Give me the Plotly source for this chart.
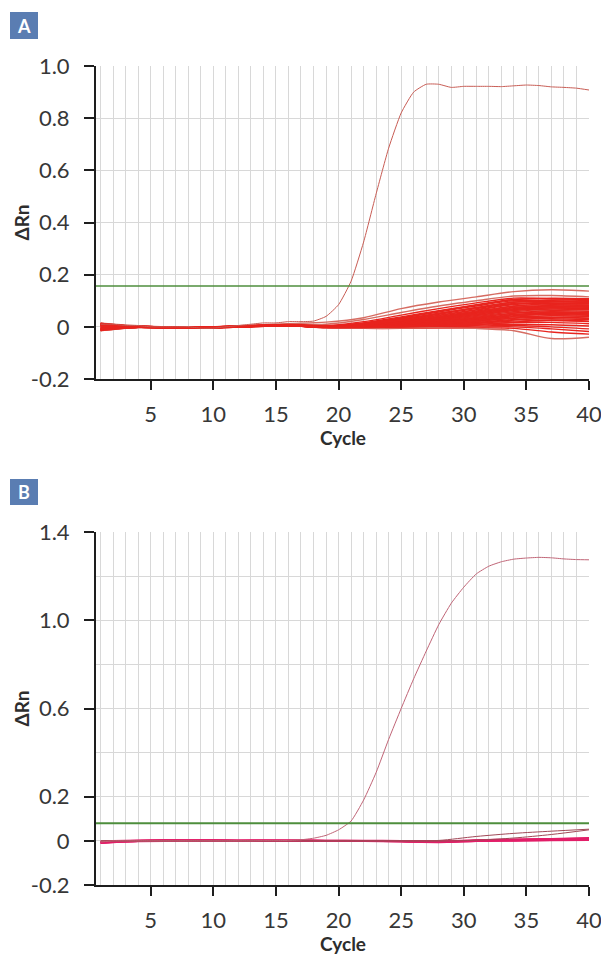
import plotly.graph_objects as go

W, H = 601, 958

# ---------------- data ----------------
CYCLES = list(range(1, 41))
# sampled cycles for the non-amplifying (negative) wells
CYC_S = [1, 2, 4, 8, 12, 16, 19, 22, 25, 28, 31, 34, 37, 40]

# Panel A: positive control well
A_POS = [0.010, 0.010, 0.005, 0.005, 0.000, 0.000, 0.000, 0.000, -0.005, -0.005,
         0.000, 0.005, 0.010, 0.015, 0.015, 0.020, 0.020, 0.022, 0.040, 0.085,
         0.175, 0.325, 0.510, 0.685, 0.820, 0.900, 0.930, 0.930, 0.918, 0.922,
         0.922, 0.922, 0.921, 0.924, 0.927, 0.925, 0.920, 0.918, 0.915, 0.908]

# Panel A: negative wells
A_NEG = [
    [0.015, 0.010, 0.004, -0.002, 0.004, 0.012, 0.018, 0.035, 0.070, 0.095, 0.115, 0.135, 0.142, 0.137],
    [0.010, 0.006, 0.002, -0.003, 0.002, 0.010, 0.010, 0.028, 0.055, 0.080, 0.100, 0.118, 0.120, 0.115],
    [-0.012, -0.008, -0.002, -0.004, 0.001, 0.008, 0.005, 0.020, 0.045, 0.070, 0.092, 0.110, 0.108, 0.106],
    [0.005, 0.003, 0.000, -0.003, 0.003, 0.007, 0.002, 0.015, 0.038, 0.062, 0.085, 0.105, 0.107, 0.104],
    [-0.008, -0.005, -0.001, -0.005, 0.000, 0.006, 0.000, 0.012, 0.033, 0.057, 0.080, 0.100, 0.100, 0.098],
    [0.012, 0.007, 0.002, -0.002, 0.003, 0.009, 0.003, 0.014, 0.030, 0.052, 0.074, 0.095, 0.097, 0.095],
    [-0.014, -0.009, -0.003, -0.006, -0.001, 0.005, -0.002, 0.008, 0.027, 0.048, 0.070, 0.090, 0.092, 0.090],
    [0.002, 0.000, 0.001, -0.004, 0.002, 0.007, 0.001, 0.010, 0.025, 0.045, 0.066, 0.087, 0.090, 0.088],
    [0.008, 0.004, 0.000, -0.003, 0.001, 0.006, -0.001, 0.007, 0.022, 0.040, 0.060, 0.080, 0.085, 0.083],
    [-0.010, -0.006, -0.002, -0.005, 0.000, 0.005, -0.003, 0.005, 0.019, 0.036, 0.055, 0.075, 0.080, 0.079],
    [0.004, 0.002, 0.001, -0.004, 0.001, 0.006, 0.000, 0.006, 0.017, 0.033, 0.052, 0.070, 0.077, 0.075],
    [-0.004, -0.003, -0.001, -0.005, 0.000, 0.004, -0.002, 0.004, 0.015, 0.030, 0.047, 0.066, 0.072, 0.070],
    [0.013, 0.008, 0.002, -0.002, 0.002, 0.007, 0.001, 0.005, 0.014, 0.027, 0.043, 0.062, 0.068, 0.066],
    [-0.015, -0.010, -0.003, -0.006, -0.001, 0.004, -0.003, 0.002, 0.012, 0.024, 0.039, 0.058, 0.063, 0.060],
    [0.006, 0.004, 0.001, -0.003, 0.002, 0.006, 0.000, 0.004, 0.011, 0.022, 0.036, 0.053, 0.058, 0.055],
    [-0.006, -0.004, -0.001, -0.005, 0.000, 0.005, -0.002, 0.002, 0.010, 0.020, 0.032, 0.048, 0.052, 0.050],
    [0.009, 0.005, 0.001, -0.003, 0.002, 0.006, -0.001, 0.002, 0.008, 0.017, 0.028, 0.043, 0.047, 0.044],
    [-0.011, -0.007, -0.002, -0.005, -0.001, 0.004, -0.003, 0.000, 0.006, 0.014, 0.024, 0.038, 0.042, 0.040],
    [0.003, 0.002, 0.000, -0.004, 0.001, 0.005, -0.001, 0.001, 0.005, 0.012, 0.021, 0.033, 0.037, 0.034],
    [-0.002, -0.002, -0.001, -0.005, 0.000, 0.005, -0.002, -0.001, 0.003, 0.009, 0.017, 0.028, 0.031, 0.028],
    [0.011, 0.006, 0.002, -0.002, 0.002, 0.007, 0.000, 0.000, 0.002, 0.007, 0.013, 0.022, 0.024, 0.020],
    [-0.013, -0.008, -0.002, -0.006, -0.001, 0.004, -0.003, -0.002, 0.000, 0.004, 0.009, 0.016, 0.017, 0.012],
    [0.007, 0.004, 0.001, -0.003, 0.001, 0.006, -0.001, -0.001, 0.000, 0.002, 0.006, 0.010, 0.008, 0.003],
    [-0.007, -0.005, -0.001, -0.005, 0.000, 0.005, -0.002, -0.003, -0.002, 0.000, 0.003, 0.005, 0.000, -0.008],
    [0.001, 0.001, 0.000, -0.004, 0.001, 0.005, -0.002, -0.004, -0.004, -0.003, -0.001, 0.000, -0.008, -0.018],
    [-0.009, -0.006, -0.002, -0.005, 0.000, 0.004, -0.003, -0.006, -0.006, -0.005, -0.004, -0.006, -0.020, -0.028],
    [0.004, 0.002, 0.000, -0.004, 0.001, 0.006, -0.002, -0.005, -0.005, -0.004, -0.006, -0.015, -0.045, -0.040],
    [0.010, 0.006, 0.001, -0.003, 0.002, 0.008, 0.002, 0.013, 0.035, 0.060, 0.083, 0.104, 0.110, 0.108],
    [-0.005, -0.004, 0.000, -0.004, 0.001, 0.006, 0.001, 0.011, 0.029, 0.051, 0.073, 0.094, 0.103, 0.101],
    [0.014, 0.009, 0.002, -0.002, 0.003, 0.008, 0.001, 0.009, 0.024, 0.043, 0.064, 0.085, 0.095, 0.094],
    [-0.009, -0.006, -0.001, -0.005, 0.000, 0.005, -0.001, 0.007, 0.020, 0.038, 0.058, 0.079, 0.088, 0.087],
    [0.003, 0.002, 0.000, -0.004, 0.001, 0.006, 0.000, 0.006, 0.018, 0.034, 0.053, 0.073, 0.083, 0.082],
    [-0.012, -0.008, -0.002, -0.005, 0.000, 0.005, -0.002, 0.004, 0.016, 0.031, 0.049, 0.068, 0.078, 0.077],
    [0.007, 0.004, 0.001, -0.003, 0.002, 0.006, 0.000, 0.004, 0.013, 0.027, 0.044, 0.063, 0.073, 0.072],
    [-0.003, -0.002, 0.000, -0.004, 0.001, 0.005, -0.001, 0.003, 0.011, 0.024, 0.040, 0.058, 0.068, 0.066],
    [0.011, 0.007, 0.002, -0.003, 0.002, 0.007, 0.000, 0.002, 0.009, 0.020, 0.035, 0.052, 0.062, 0.060],
    [-0.014, -0.009, -0.002, -0.006, -0.001, 0.004, -0.002, 0.001, 0.007, 0.017, 0.030, 0.046, 0.056, 0.053],
    [0.005, 0.003, 0.001, -0.004, 0.001, 0.006, -0.001, 0.000, 0.005, 0.013, 0.025, 0.040, 0.050, 0.047],
    [-0.001, -0.001, 0.000, -0.004, 0.001, 0.005, -0.002, -0.001, 0.003, 0.010, 0.020, 0.034, 0.043, 0.040],
    [0.009, 0.005, 0.001, -0.003, 0.002, 0.006, -0.001, -0.002, 0.001, 0.006, 0.014, 0.026, 0.035, 0.032],
    [-0.007, -0.004, -0.001, -0.005, 0.000, 0.005, -0.002, -0.003, -0.001, 0.003, 0.009, 0.018, 0.026, 0.022],
]
A_NEG_LIGHT = {0, 1, 13, 26}
A_THRESHOLD = 0.157

# Panel B: positive control well
B_POS = [-0.005, 0.000, 0.000, 0.000, 0.000, 0.000, 0.000, 0.000, 0.000, 0.000,
         0.000, 0.000, 0.000, 0.001, 0.001, 0.002, 0.005, 0.012, 0.025, 0.050,
         0.090, 0.185, 0.310, 0.460, 0.600, 0.735, 0.860, 0.980, 1.077, 1.150,
         1.210, 1.245, 1.265, 1.277, 1.282, 1.285, 1.283, 1.278, 1.275, 1.274]

# Panel B: negative wells
B_NEG = [
    [-0.008, -0.004, 0.000, 0.002, 0.001, 0.001, 0.000, 0.000, -0.001, -0.003, 0.002, 0.004, 0.006, 0.010],
    [-0.010, -0.005, -0.001, 0.001, 0.000, 0.000, -0.001, 0.000, -0.002, -0.005, 0.000, 0.002, 0.004, 0.006],
    [-0.006, -0.002, 0.001, 0.003, 0.002, 0.002, 0.001, 0.001, 0.000, -0.002, 0.003, 0.006, 0.009, 0.013],
    [-0.004, -0.001, 0.002, 0.002, 0.001, 0.000, 0.000, -0.001, -0.003, -0.006, -0.001, 0.001, 0.003, 0.004],
    [-0.009, -0.006, -0.002, 0.000, 0.000, 0.001, 0.000, 0.000, -0.001, -0.004, 0.001, 0.003, 0.007, 0.011],
    [-0.007, -0.003, 0.000, 0.001, 0.001, 0.002, 0.001, 0.000, -0.002, -0.003, 0.001, 0.005, 0.008, 0.008],
]
# Panel B: late-drifting wells
B_LATE = [
    [0.000, 0.000, 0.000, 0.000, 0.000, 0.000, 0.000, 0.000, 0.000, 0.002, 0.020, 0.034, 0.044, 0.053],
    [0.000, 0.000, 0.000, 0.000, 0.000, 0.000, 0.000, 0.000, 0.000, -0.001, 0.003, 0.013, 0.029, 0.050],
]
B_THRESHOLD = 0.08

A_YTICKS = [-0.2, 0, 0.2, 0.4, 0.6, 0.8, 1.0]
A_YTEXT = ["-0.2", "0", "0.2", "0.4", "0.6", "0.8", "1.0"]
B_YTICKS = [-0.2, 0, 0.2, 0.6, 1.0, 1.4]
B_YTEXT = ["-0.2", "0", "0.2", "0.6", "1.0", "1.4"]
B_YGRID = [0.4, 0.8, 1.2]

# ---------------- styling ----------------
FONT = "Lato"
RED = "rgb(232,36,30)"
RED_LIGHT = "rgb(214,108,98)"
POS_A = "rgb(200,92,84)"
PINK = "rgb(226,30,104)"
POS_B = "rgb(192,100,118)"
LATE_B = "rgb(160,72,86)"
GREEN = "rgb(78,142,60)"
GRID = "rgb(216,216,216)"
AXIS = "rgb(30,30,30)"
BOX = "rgb(90,125,178)"


def px_x(p):
    return p / W


def px_y(p):
    return 1 - p / H


X_DOM = [px_x(96), px_x(589)]
A_DOM = [px_y(379), px_y(66)]
B_DOM = [px_y(885), px_y(532)]
X_RANGE = [0.63, 40]

fig = go.Figure()

for i, ys in enumerate(A_NEG):
    fig.add_trace(go.Scatter(
        x=CYC_S, y=ys, mode="lines", xaxis="x", yaxis="y",
        line=dict(color=RED_LIGHT if i in A_NEG_LIGHT else RED, width=1.4,
                  shape="spline", smoothing=0.8),
        hoverinfo="skip", showlegend=False))
fig.add_trace(go.Scatter(
    x=CYCLES, y=A_POS, mode="lines", xaxis="x", yaxis="y",
    line=dict(color=POS_A, width=1, shape="spline", smoothing=0.5),
    showlegend=False))

for ys in B_NEG:
    fig.add_trace(go.Scatter(
        x=CYC_S, y=ys, mode="lines", xaxis="x2", yaxis="y2",
        line=dict(color=PINK, width=2, shape="spline", smoothing=0.8),
        hoverinfo="skip", showlegend=False))
for ys in B_LATE:
    fig.add_trace(go.Scatter(
        x=CYC_S, y=ys, mode="lines", xaxis="x2", yaxis="y2",
        line=dict(color=LATE_B, width=1, shape="spline", smoothing=0.8),
        hoverinfo="skip", showlegend=False))
fig.add_trace(go.Scatter(
    x=CYCLES, y=B_POS, mode="lines", xaxis="x2", yaxis="y2",
    line=dict(color=POS_B, width=1, shape="spline", smoothing=0.5),
    showlegend=False))

tickfont = dict(family=FONT, size=22, color="rgb(55,55,55)")


def x_axis(anchor):
    return dict(
        domain=X_DOM, range=X_RANGE, anchor=anchor, automargin=False,
        tickmode="linear", tick0=0, dtick=5,
        showgrid=True, gridcolor=GRID, gridwidth=1,
        minor=dict(tickmode="linear", tick0=0, dtick=1, showgrid=True,
                   gridcolor=GRID, gridwidth=1, ticks=""),
        showline=True, linecolor=AXIS, linewidth=2,
        ticks="outside", ticklen=9, tickwidth=2, tickcolor=AXIS,
        tickfont=tickfont, ticklabelstandoff=6, ticklabeloverflow="allow",
        zeroline=False,
    )


def y_axis(anchor, dom, rng, vals, text, grid_extra=None):
    d = dict(
        domain=dom, range=rng, anchor=anchor, automargin=False,
        tickmode="array", tickvals=vals, ticktext=text,
        showgrid=True, gridcolor=GRID, gridwidth=1,
        showline=True, linecolor=AXIS, linewidth=2,
        ticks="outside", ticklen=10, tickwidth=2, tickcolor=AXIS,
        tickfont=tickfont, ticklabelstandoff=10, ticklabeloverflow="allow",
        zeroline=False,
    )
    if grid_extra:
        d["minor"] = dict(tickmode="array", tickvals=grid_extra, showgrid=True,
                          gridcolor=GRID, gridwidth=1, ticks="")
    return d


shapes = [
    dict(type="line", xref="x domain", yref="y", x0=0, x1=1, y0=A_THRESHOLD, y1=A_THRESHOLD,
         line=dict(color=GREEN, width=1.5)),
    dict(type="line", xref="x2 domain", yref="y2", x0=0, x1=1, y0=B_THRESHOLD, y1=B_THRESHOLD,
         line=dict(color=GREEN, width=2)),
    dict(type="rect", xref="paper", yref="paper", x0=px_x(10), x1=px_x(38),
         y0=px_y(39), y1=px_y(12), fillcolor=BOX, line=dict(width=0), layer="above"),
    dict(type="rect", xref="paper", yref="paper", x0=px_x(10), x1=px_x(38),
         y0=px_y(505), y1=px_y(479), fillcolor=BOX, line=dict(width=0), layer="above"),
]

title_font = dict(family=FONT, size=19, color="rgb(45,45,45)")
annotations = [
    dict(text="<b>A</b>", x=px_x(24), y=px_y(25.5), xref="paper", yref="paper",
         showarrow=False, font=dict(family=FONT, size=18, color="white"),
         xanchor="center", yanchor="middle"),
    dict(text="<b>B</b>", x=px_x(24), y=px_y(492), xref="paper", yref="paper",
         showarrow=False, font=dict(family=FONT, size=18, color="white"),
         xanchor="center", yanchor="middle"),
    dict(text="<b>ΔRn</b>", x=px_x(21), y=px_y(222.5), xref="paper", yref="paper",
         showarrow=False, textangle=-90, font=title_font, xanchor="center", yanchor="middle"),
    dict(text="<b>ΔRn</b>", x=px_x(21), y=px_y(708.5), xref="paper", yref="paper",
         showarrow=False, textangle=-90, font=title_font, xanchor="center", yanchor="middle"),
    dict(text="<b>Cycle</b>", x=px_x(342.5), y=px_y(437), xref="paper", yref="paper",
         showarrow=False, font=title_font, xanchor="center", yanchor="middle"),
    dict(text="<b>Cycle</b>", x=px_x(342.5), y=px_y(943), xref="paper", yref="paper",
         showarrow=False, font=title_font, xanchor="center", yanchor="middle"),
]

fig.update_layout(
    width=W, height=H,
    margin=dict(l=0, r=0, t=0, b=0, pad=0),
    paper_bgcolor="white", plot_bgcolor="white",
    xaxis=x_axis("y"),
    yaxis=y_axis("x", A_DOM, [-0.2, 1.0], A_YTICKS, A_YTEXT),
    xaxis2=x_axis("y2"),
    yaxis2=y_axis("x2", B_DOM, [-0.2, 1.4], B_YTICKS, B_YTEXT, B_YGRID),
    shapes=shapes,
    annotations=annotations,
    showlegend=False,
)

fig.write_html("out.html")
